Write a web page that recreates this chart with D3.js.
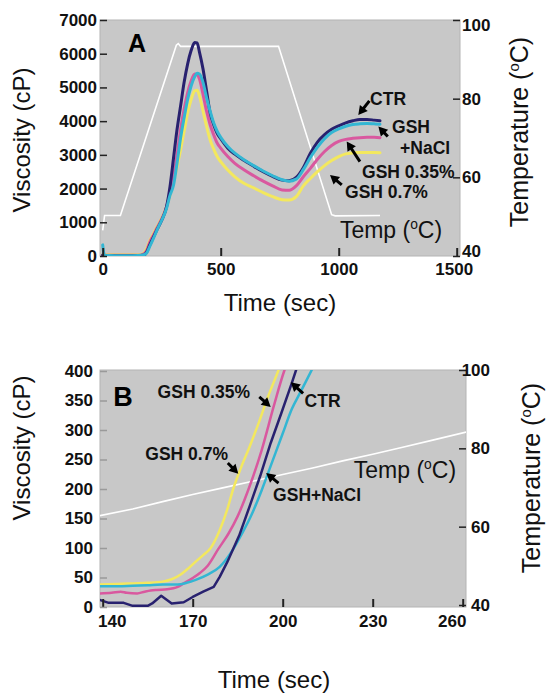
<!DOCTYPE html>
<html><head><meta charset="utf-8">
<script src="https://cdn.jsdelivr.net/npm/d3@7"></script>
<style>
body{margin:0;background:#fff}
text{font-family:"Liberation Sans", Arial, Helvetica, sans-serif}
</style>
</head><body>
<svg id="c" width="547" height="696"></svg>
<script>
// ---------- Panel A data ----------
const timeA = [0,3,8,50,100, 150,170,185,200,215, 230,250,270,285,300, 315,330,345,360,375, 390,400,410,425,440, 455,470,485,500,530, 560,600,640,680,720, 760,790,820,850,880, 910,940,970,1000,1030, 1060,1090,1120,1150,1175];
const ctrA  = [30,20,10,5,5, 5,20,100,340,560, 780,1060,1450,2050,2900, 3750,4450,5150,5700,6100, 6330,6320,6050,5550,4900, 4250,3900,3640,3480,3200, 3020,2830,2660,2500,2360, 2250,2230,2330,2620,3050, 3380,3600,3760,3860,3950, 4010,4050,4050,4030,4010];
const naclA = [330,150,20,10,10, 15,30,80,290,520, 770,1060,1400,1800,2100, 2750,3500,4100,4650,5050, 5320,5420,5400,5150,4700, 4300,3950,3700,3520,3250, 3050,2850,2680,2520,2380, 2260,2220,2280,2560,2920, 3230,3480,3660,3770,3850, 3900,3920,3930,3920,3910];
const gsh035A = [20,20,20,20,20, 20,50,150,420,620, 830,1100,1450,1850,2350, 3000,3750,4350,4850,5200, 5400,5380,5250,4800,4300, 3900,3600,3350,3200,2950, 2750,2550,2380,2220,2080, 1960,1950,2080,2350,2600, 2870,3100,3280,3400,3460, 3490,3510,3520,3520,3510];
const gsh07A = [40,40,40,40,40, 40,60,200,460,660, 860,1120,1450,1800,2200, 2650,3150,3700,4250,4650, 4900,4920,4750,4300,3850, 3450,3180,2950,2800,2550, 2350,2150,2020,1880,1760, 1670,1660,1760,2080,2300, 2500,2680,2830,2950,3030, 3060,3070,3070,3070,3065];
const tempTimeA = [0,8,75,312,320,330,745,970,985,1175];
const tempA = [46.5,50.3,50.3,93.6,94.0,93.3,93.3,50.5,50.2,50.3];
const xTicksA = [0,500,1000,1500];
const yTicksA = [0,1000,2000,3000,4000,5000,6000,7000];
const tTicksA = [40,60,80,100];

// ---------- Panel B data ----------
const ctrBt = [139,142,147,150,155,156.5,159.5,163,167,170,173.5,177,179,181.5,185.5,189,192.5,196,199.5,203,205];
const ctrBv = [12,7,7,2,2,6,19,6,8,17,26,34,51,76,121,171,222,278,328,379,410];
const naclBt = [139,145,150,155,160,165,168,171,175,179,183.5,186.5,189.5,193,196.5,200,203,206,209.5,211];
const naclBv = [35,35,36,37,38,38,41,46,55,68,98,125,155,198,246,294,335,365,400,415];
const gsh035Bt = [139,143,146,148,151.5,154,156,158,161.5,165,167,170,172.5,175,178.5,182,185,189,193,197,200.5,202];
const gsh035Bv = [23,24,26,24,23,26,28,29,30,34,40,49,58,70,98,125,154,205,266,340,400,420];
const gsh07Bt = [139,145,150,155,160,163,166,168,171,173.5,176,179,181.5,183.5,186,189,192,195,198.5,200];
const gsh07Bv = [38,39,40,41,43,47,55,63,77,88,100,130,165,200,235,272,312,355,400,420];
const tempTimeB = [139,150,160,170,180,190,200,210,220,230,240,250,262];
const tempB = [62.8,64.5,66.4,68.2,69.9,71.6,73.3,75.0,76.8,78.5,80.3,82.1,84.3];
const xTicksB = [140,170,200,230,260];
const yTicksB = [0,50,100,150,200,250,300,350,400];
const tTicksB = [40,60,80,100];

const colors = {ctr:"#28216f", nacl:"#33b6d3", g035:"#d9589f", g07:"#f3e85e"};

// annotations (data coordinates)
const labelsA = [
  {text:"CTR", t:1133, v:4485},
  {text:"GSH", t:1226, v:3653},
  {text:"+NaCl", t:1260, v:3029},
  {text:"GSH 0.35%", t:1099, v:2317},
  {text:"GSH 0.7%", t:1027, v:1723}
];
const arrowsA = [
  {t0:1130, v0:4600, t1:1083, v1:4180},
  {t0:1208, v0:3543, t1:1168, v1:3840},
  {t0:1090, v0:2800, t1:1034, v1:3395},
  {t0:1013, v0:2109, t1:963,  v1:2406}
];
const labelsB = [
  {text:"GSH 0.35%", t:158.3, v:354},
  {text:"CTR", t:207.3, v:339},
  {text:"GSH 0.7%", t:154.2, v:250},
  {text:"GSH+NaCl", t:196.8, v:180}
];
const arrowsB = [
  {t0:192.2, v0:356, t1:196.0, v1:339},
  {t0:206.8, v0:362, t1:202.7, v1:381},
  {t0:181.7, v0:244, t1:185.2, v1:226},
  {t0:198.6, v0:210, t1:194.5, v1:227}
];

const svg = d3.select("#c");

function zip(ts, vs){ return ts.map((t,i)=>[t, vs[i]]); }

function arrow(g, x, y, a){
  const x1=x(a.t0), y1=y(a.v0), x2=x(a.t1), y2=y(a.v1);
  const dx=x2-x1, dy=y2-y1, L=Math.hypot(dx,dy), ux=dx/L, uy=dy/L;
  const hl=9, hw=5;
  const bx=x2-ux*hl, by=y2-uy*hl;
  g.append("line").attr("x1",x1).attr("y1",y1).attr("x2",bx+ux*1).attr("y2",by+uy*1)
    .attr("stroke","#000").attr("stroke-width",3);
  g.append("path").attr("d",`M${x2},${y2}L${bx-uy*hw},${by+ux*hw}L${bx+uy*hw},${by-ux*hw}Z`).attr("fill","#000");
}

function tempLabel(g, x, y, size){
  const t = g.append("text").attr("x",x).attr("y",y).attr("font-size",size).attr("fill","#111");
  t.append("tspan").text("Temp (");
  t.append("tspan").text("o").attr("font-size",size*0.6).attr("dy",-size*0.38);
  t.append("tspan").text("C)").attr("dy",size*0.38);
}

function panel(cfg){
  const g = svg.append("g");
  const x = d3.scaleLinear().domain(cfg.xDom).range(cfg.xRange);
  const y = d3.scaleLinear().domain(cfg.yDom).range(cfg.yRange);
  const yt = d3.scaleLinear().domain([40,100]).range(cfg.tRange);
  const L = cfg.box.l, R = cfg.box.r, T = cfg.box.t, B = cfg.box.b;

  g.append("rect").attr("x",L).attr("y",T).attr("width",R-L).attr("height",B-T)
    .attr("fill","#c8c8c8").attr("stroke","#b4b4b4").attr("stroke-width",1);

  const clipId = "clip"+cfg.id;
  svg.append("clipPath").attr("id",clipId).append("rect")
    .attr("x",L).attr("y",T).attr("width",R-L).attr("height",B-T);
  const plot = g.append("g").attr("clip-path",`url(#${clipId})`);

  // temperature line
  plot.append("path").datum(zip(cfg.tempT, cfg.temp))
    .attr("d", d3.line().x(d=>x(d[0])).y(d=>yt(d[1])))
    .attr("fill","none").attr("stroke","#fff").attr("stroke-width",1.6);

  cfg.series.forEach(s=>{
    plot.append("path").datum(zip(s.t, s.v))
      .attr("d", d3.line().curve(s.curve||d3.curveMonotoneX).x(d=>x(d[0])).y(d=>y(d[1])))
      .attr("fill","none").attr("stroke",s.color).attr("stroke-width",cfg.lw)
      .attr("stroke-linejoin","round").attr("stroke-linecap","round");
  });

  // axes
  const ax = g.append("g").attr("transform",`translate(0,${B})`)
    .call(d3.axisBottom(x).tickValues(cfg.xTicks).tickSize(-8).tickPadding(cfg.xPad).tickFormat(d3.format("d")));
  const ay = g.append("g").attr("transform",`translate(${L},0)`)
    .call(d3.axisLeft(y).tickValues(cfg.yTicks).tickSize(-7).tickPadding(cfg.yPad).tickFormat(d3.format("d")));
  const at = g.append("g").attr("transform",`translate(${R},0)`)
    .call(d3.axisRight(yt).tickValues(cfg.tTicks).tickSize(-7).tickPadding(cfg.tPad).tickFormat(d3.format("d")));
  [ax,ay,at].forEach(a=>{
    a.select(".domain").remove();
    a.selectAll("text").attr("font-size",17).attr("font-weight","bold").attr("fill","#111")
      .attr("font-family",'"Liberation Sans", Arial, sans-serif');
  });
  ax.selectAll("line").attr("stroke","#222").attr("stroke-width",2);
  ay.selectAll("line").attr("stroke",cfg.leftTickColor).attr("stroke-width",1.5);
  at.selectAll("line").attr("stroke","#222").attr("stroke-width",1.5);
  if(cfg.xShift){ ax.selectAll(".tick text").attr("dx",(d,i)=>cfg.xShift[i]||0); }
  if(cfg.tShift){ at.selectAll(".tick text").attr("transform",(d,i)=>`translate(0,${cfg.tShift[i]||0})`); }
  if(cfg.tRightAlign){ at.selectAll(".tick text").attr("text-anchor","end").attr("x",cfg.tRightAlign); }

  // annotations
  const ann = g.append("g");
  cfg.labels.forEach(l=>{
    ann.append("text").attr("x",x(l.t)).attr("y",y(l.v)).text(l.text)
      .attr("font-size",17.5).attr("font-weight","bold").attr("fill","#111");
  });
  cfg.arrows.forEach(a=>arrow(ann,x,y,a));
  tempLabel(ann, x(cfg.tempLbl[0]), y(cfg.tempLbl[1]), 23);
  ann.append("text").attr("x",x(cfg.letter.t)).attr("y",y(cfg.letter.v)).text(cfg.letter.text)
    .attr("font-size",cfg.letter.size).attr("font-weight","bold").attr("fill","#000");

  // axis titles
  g.append("text").attr("transform",`translate(${cfg.vTitle[0]},${cfg.vTitle[1]}) rotate(-90)`)
    .attr("text-anchor","middle").attr("font-size",24).attr("fill","#111").text("Viscosity (cP)");
  const tt = g.append("text").attr("transform",`translate(${cfg.tTitle[0]},${cfg.tTitle[1]}) rotate(-90)`)
    .attr("text-anchor","middle").attr("font-size",25).attr("fill","#111");
  tt.append("tspan").text("Temperature (");
  tt.append("tspan").text("o").attr("font-size",15).attr("dy",-9);
  tt.append("tspan").text("C)").attr("dy",9);
  g.append("text").attr("x",cfg.xTitle[0]).attr("y",cfg.xTitle[1]).attr("text-anchor","middle")
    .attr("font-size",24).attr("fill","#111").text("Time (sec)");
}

panel({
  id:"A",
  xDom:[0,1500], xRange:[102.7,456.7],
  yDom:[0,7000], yRange:[256,20],
  tRange:[256,20],
  box:{l:100,r:460,t:20,b:256},
  tempT:tempTimeA, temp:tempA,
  series:[
    {t:timeA, v:gsh07A, color:colors.g07},
    {t:timeA, v:gsh035A, color:colors.g035},
    {t:timeA, v:ctrA, color:colors.ctr},
    {t:timeA, v:naclA, color:colors.nacl}
  ],
  lw:3,
  xTicks:xTicksA, yTicks:yTicksA, tTicks:tTicksA,
  xPad:7, yPad:3, tPad:2,
  xShift:[0,0,0,-3],
  tShift:[-5,0,0,5],
  leftTickColor:"#222",
  labels:labelsA, arrows:arrowsA,
  tempLbl:[1005,535],
  letter:{text:"A", t:107, v:6059, size:25},
  vTitle:[30,140], tTitle:[528,132], xTitle:[280,311]
});

panel({
  id:"B",
  xDom:[140,260], xRange:[102.7,462.7],
  yDom:[0,400], yRange:[607,371],
  tRange:[605,370],
  box:{l:100,r:466,t:370,b:607},
  tempT:tempTimeB, temp:tempB,
  series:[
    {t:gsh07Bt, v:gsh07Bv, color:colors.g07},
    {t:gsh035Bt, v:gsh035Bv, color:colors.g035},
    {t:naclBt, v:naclBv, color:colors.nacl},
    {t:ctrBt, v:ctrBv, color:colors.ctr, curve:d3.curveLinear}
  ],
  lw:2.5,
  xTicks:xTicksB, yTicks:yTicksB, tTicks:tTicksB,
  xPad:8, yPad:7, tPad:2,
  xShift:[9,0,0,0,-11],
  tRightAlign:24,
  leftTickColor:"#9a9a9a",
  labels:labelsB, arrows:arrowsB,
  tempLbl:[223.7,219],
  letter:{text:"B", t:143.5, v:340, size:27},
  vTitle:[30,448], tTitle:[540,478], xTitle:[274,688]
});
</script>
</body></html>
